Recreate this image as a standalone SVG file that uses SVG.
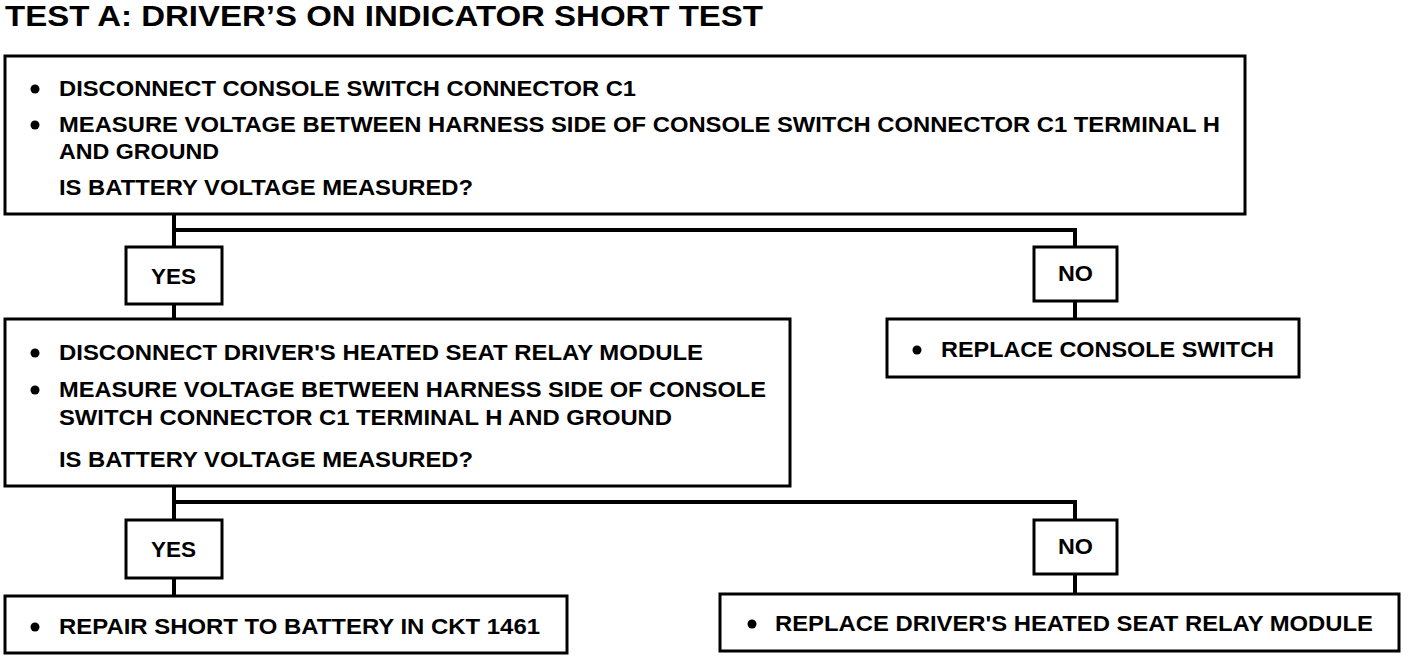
<svg xmlns="http://www.w3.org/2000/svg" width="1408" height="658" viewBox="0 0 1408 658">
<style>
.box{fill:#fff;stroke:#000;stroke-width:3}
.t{font-family:"Liberation Sans",Arial,sans-serif;font-size:22px;font-weight:bold;fill:#000}
.title{font-family:"Liberation Sans",Arial,sans-serif;font-size:29px;font-weight:bold;fill:#000}
.c{fill:none;stroke:#000;stroke-width:4}
.b{fill:#000}
</style>
<rect width="1408" height="658" fill="#fff"/>
<text class="title" x="5" y="26" textLength="758" lengthAdjust="spacingAndGlyphs">TEST A: DRIVER’S ON INDICATOR SHORT TEST</text>
<g id="connectors">
<path class="c" d="M174 214V247M174 230H1075V247M174 304V319M1075 301V319"/>
<path class="c" d="M174 486V520M174 502H1075V520M174 578V596M1075 574V594"/>
</g>
<g id="n1">
<rect class="box" x="5" y="56" width="1240" height="158"/>
<circle class="b" cx="35" cy="89" r="4.5"/>
<text class="t" x="59" y="96" textLength="577" lengthAdjust="spacingAndGlyphs">DISCONNECT CONSOLE SWITCH CONNECTOR C1</text>
<circle class="b" cx="35" cy="125" r="4.5"/>
<text class="t" x="59" y="132" textLength="1161" lengthAdjust="spacingAndGlyphs">MEASURE VOLTAGE BETWEEN HARNESS SIDE OF CONSOLE SWITCH CONNECTOR C1 TERMINAL H</text>
<text class="t" x="59" y="159" textLength="160" lengthAdjust="spacingAndGlyphs">AND GROUND</text>
<text class="t" x="59" y="195" textLength="414" lengthAdjust="spacingAndGlyphs">IS BATTERY VOLTAGE MEASURED?</text>
</g>
<g id="yes1">
<rect class="box" x="126" y="247" width="96" height="57"/>
<text class="t" x="173.5" y="284" text-anchor="middle" textLength="45" lengthAdjust="spacingAndGlyphs">YES</text>
</g>
<g id="no1">
<rect class="box" x="1034" y="247" width="83" height="54"/>
<text class="t" x="1075.5" y="281" text-anchor="middle" textLength="35" lengthAdjust="spacingAndGlyphs">NO</text>
</g>
<g id="n2">
<rect class="box" x="5" y="319" width="785" height="167"/>
<circle class="b" cx="35" cy="353" r="4.5"/>
<text class="t" x="59" y="360" textLength="644" lengthAdjust="spacingAndGlyphs">DISCONNECT DRIVER'S HEATED SEAT RELAY MODULE</text>
<circle class="b" cx="35" cy="390" r="4.5"/>
<text class="t" x="59" y="397" textLength="707" lengthAdjust="spacingAndGlyphs">MEASURE VOLTAGE BETWEEN HARNESS SIDE OF CONSOLE</text>
<text class="t" x="59" y="425" textLength="613" lengthAdjust="spacingAndGlyphs">SWITCH CONNECTOR C1 TERMINAL H AND GROUND</text>
<text class="t" x="59" y="467" textLength="414" lengthAdjust="spacingAndGlyphs">IS BATTERY VOLTAGE MEASURED?</text>
</g>
<g id="n3">
<rect class="box" x="887" y="319" width="412" height="58"/>
<circle class="b" cx="917" cy="350" r="4.5"/>
<text class="t" x="941" y="357" textLength="333" lengthAdjust="spacingAndGlyphs">REPLACE CONSOLE SWITCH</text>
</g>
<g id="yes2">
<rect class="box" x="126" y="520" width="96" height="58"/>
<text class="t" x="173.5" y="557" text-anchor="middle" textLength="45" lengthAdjust="spacingAndGlyphs">YES</text>
</g>
<g id="no2">
<rect class="box" x="1034" y="520" width="83" height="54"/>
<text class="t" x="1075.5" y="554" text-anchor="middle" textLength="35" lengthAdjust="spacingAndGlyphs">NO</text>
</g>
<g id="n4">
<rect class="box" x="5" y="596" width="562" height="57"/>
<circle class="b" cx="35" cy="627" r="4.5"/>
<text class="t" x="59" y="634" textLength="481" lengthAdjust="spacingAndGlyphs">REPAIR SHORT TO BATTERY IN CKT 1461</text>
</g>
<g id="n5">
<rect class="box" x="720" y="594" width="679" height="57"/>
<circle class="b" cx="752" cy="624" r="4.5"/>
<text class="t" x="775" y="631" textLength="598" lengthAdjust="spacingAndGlyphs">REPLACE DRIVER'S HEATED SEAT RELAY MODULE</text>
</g>
</svg>
